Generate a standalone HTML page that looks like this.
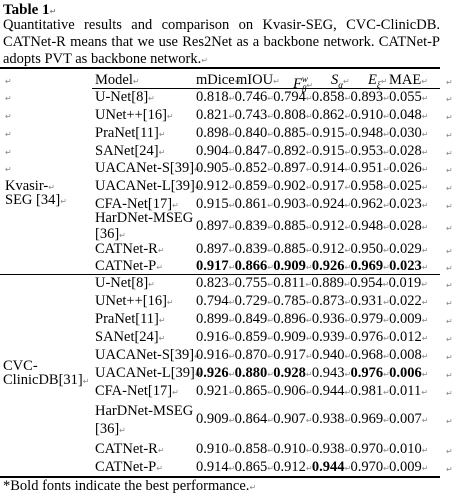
<!DOCTYPE html>
<html><head><meta charset="utf-8"><style>
html,body{margin:0;padding:0;background:#fff;}
body{width:454px;height:497px;position:relative;overflow:hidden;font-family:"Liberation Serif",serif;color:#000;}
.t{position:absolute;white-space:nowrap;font-size:14.5px;line-height:16px;}
.m{color:#888;font-size:8px;font-family:"DejaVu Sans",sans-serif;display:inline-block;width:6px;}
.cap{position:absolute;left:3px;width:437px;font-size:14.5px;line-height:17px;text-align:justify;text-align-last:justify;white-space:nowrap;}
.rule{position:absolute;left:0;background:#000;}
b{font-weight:bold;}
</style></head><body>
<div class="t" style="left:3px;top:2px;font-weight:bold;font-size:15px;">Table 1<span class="m">↵</span></div>
<div class="cap" style="top:17px;">Quantitative results and comparison on Kvasir-SEG, CVC-ClinicDB.</div>
<div class="cap" style="top:34px;">CATNet-R means that we use Res2Net as a backbone network. CATNet-P</div>
<div class="cap" style="top:51px;width:auto;text-align-last:auto;">adopts PVT as backbone network.<span class="m">↵</span></div>
<div class="rule" style="top:67px;width:440px;height:2px;"></div>
<div class="rule" style="top:88px;left:92px;width:348px;height:1px;"></div>
<div class="rule" style="top:274px;width:440px;height:1px;"></div>
<div class="rule" style="top:476px;width:440px;height:2px;"></div>
<div id="rows"></div>
<div class="t" style="left:3px;top:478px;">*Bold fonts indicate the best performance.<span class="m">↵</span></div>
<script>
var R=document.getElementById('rows');
function put(x,y,h){var d=document.createElement('div');d.className='t';d.style.left=x+'px';d.style.top=(y-8)+'px';d.innerHTML=h;R.appendChild(d);}
var M='<span class="m">↵</span>';
put(5,80,M);put(95,80,'Model'+M);put(196,80,'mDice'+M);put(236,80,'mIOU'+M);
put(293,79,'<i>F</i><sup style="font-size:9px"><i>w</i></sup><sub style="font-size:9px;margin-left:-6px"><i>β</i></sub>'+M);
put(331,80,'<i>S<sub style="font-size:9px">α</sub></i>'+M);put(368,80,'<i>E<sub style="font-size:9px">ξ</sub></i>'+M);put(389,80,'MAE'+M);put(446,81,M);
var rows=[
[97,'U-Net[8]','0.818 0.746 0.794 0.858 0.893 0.055',''],
[115,'UNet++[16]','0.821 0.743 0.808 0.862 0.910 0.048',''],
[133,'PraNet[11]','0.898 0.840 0.885 0.915 0.948 0.030',''],
[151,'SANet[24]','0.904 0.847 0.892 0.915 0.953 0.028',''],
[168,'UACANet-S[39]','0.905 0.852 0.897 0.914 0.951 0.026',''],
[186,'UACANet-L[39]','0.912 0.859 0.902 0.917 0.958 0.025',''],
[204,'CFA-Net[17]','0.915 0.861 0.903 0.924 0.962 0.023',''],
[226,'','0.897 0.839 0.885 0.912 0.948 0.028',''],
[249,'CATNet-R','0.897 0.839 0.885 0.912 0.950 0.029',''],
[266,'CATNet-P','0.917 0.866 0.909 0.926 0.969 0.023','111111'],
[283,'U-Net[8]','0.823 0.755 0.811 0.889 0.954 0.019',''],
[301,'UNet++[16]','0.794 0.729 0.785 0.873 0.931 0.022',''],
[319,'PraNet[11]','0.899 0.849 0.896 0.936 0.979 0.009',''],
[337,'SANet[24]','0.916 0.859 0.909 0.939 0.976 0.012',''],
[355,'UACANet-S[39]','0.916 0.870 0.917 0.940 0.968 0.008',''],
[373,'UACANet-L[39]','0.926 0.880 0.928 0.943 0.976 0.006','111011'],
[391,'CFA-Net[17]','0.921 0.865 0.906 0.944 0.981 0.011',''],
[419,'','0.909 0.864 0.907 0.938 0.969 0.007',''],
[449,'CATNet-R','0.910 0.858 0.910 0.938 0.970 0.010',''],
[467,'CATNet-P','0.914 0.865 0.912 0.944 0.970 0.009','000100']];
rows.forEach(function(r){
 if(r[1])put(95,r[0],r[1]+M);
 var v=r[2].split(' '),h='';
 v.forEach(function(n,i){h+=(r[3]&&r[3][i]=='1'?'<b>'+n+'</b>':n)+M;});
 put(196,r[0],h);put(446,r[0]+1,M);
});
put(95,411,'HarDNet-MSEG');put(95,429,'[36]'+M);
put(95,218,'HarDNet-MSEG');put(95,234,'[36]'+M);
[97,115,133,151,168].forEach(function(y){put(5,y,M);});
put(5,186,'Kvasir-'+M);put(5,200,'SEG [34]'+M);
put(3,366,'CVC-');put(3,380,'ClinicDB[31]'+M);
</script>
</body></html>
